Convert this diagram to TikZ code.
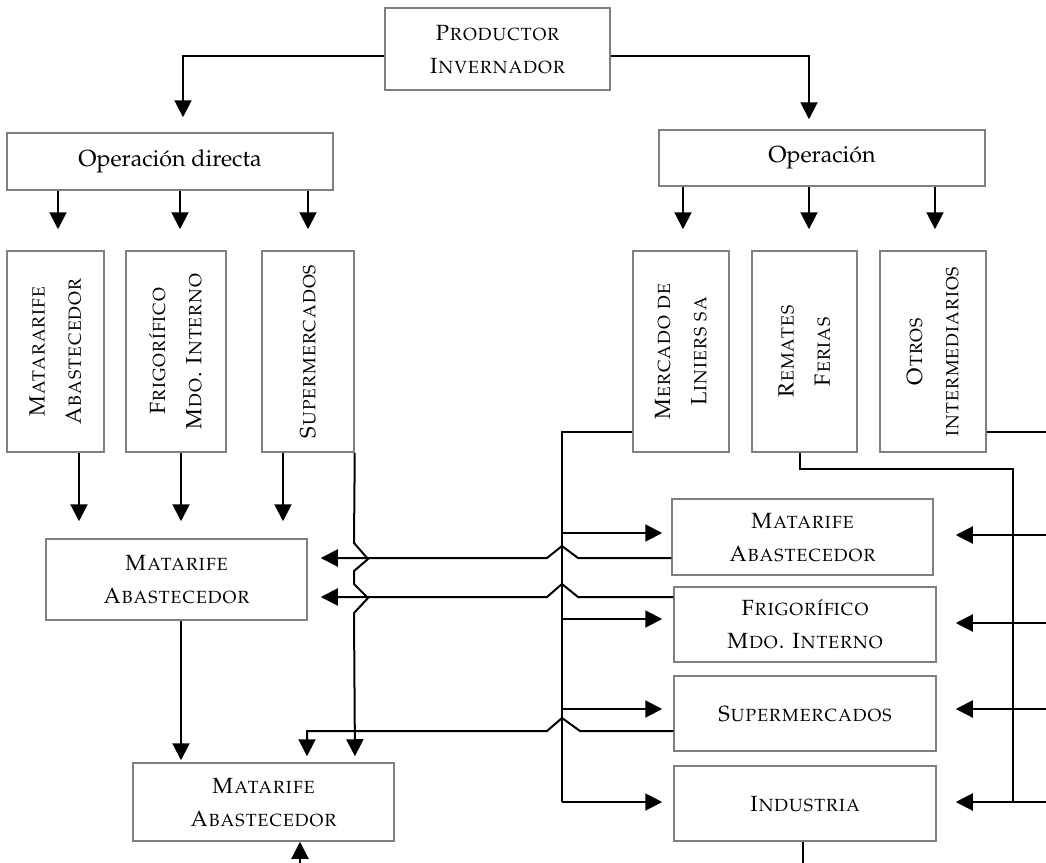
\documentclass[tikz,border=0pt]{standalone}
\usepackage[T1]{fontenc}
\usepackage{mathpazo}
\usepackage{graphicx}
\usetikzlibrary{arrows.meta}
\definecolor{grisborde}{RGB}{128,128,128}
\newcommand{\versal}[1]{\textsc{#1}}
\newcommand{\textovert}[1]{\rotatebox{90}{\renewcommand{\arraystretch}{1.1}\begin{tabular}{@{}c@{}}#1\end{tabular}}}

\begin{document}
\begin{tikzpicture}[x=0.5pt,y=-0.5pt,
  font=\fontsize{11}{16.5}\selectfont,
  flecha/.style={-{Triangle[length=8.5pt,width=8.5pt]},line width=1pt},
  linea/.style={line width=1.1pt}]
\tikzstyle{caja}=[draw=grisborde,line width=0.75pt,align=center,inner sep=0pt]
\useasboundingbox (0,0) rectangle (1046,863);
% cajas de arriba
\node[caja,minimum width=112.5pt,minimum height=41pt] (productor) at (497.5,49) {\versal{Productor}\\\versal{Invernador}};
\node[caja,minimum width=163pt,minimum height=28.5pt,font=\fontsize{11.6}{14}\selectfont] (opdirecta) at (170,161.5) {Operación directa};
\node[caja,minimum width=163pt,minimum height=28pt,font=\fontsize{11.6}{14}\selectfont] (operacion) at (822,158) {Operación};
% cajas verticales
\node[caja,minimum width=48.5pt,minimum height=100.5pt] (vmatarife) at (55.5,351.5) {\textovert{\versal{Matararife}\\\versal{Abastecedor}}};
\node[caja,minimum width=50pt,minimum height=100.5pt] (vfrigorifico) at (176,351.5) {\textovert{\versal{Frigorífico}\\\versal{Mdo. Interno}}};
\node[caja,minimum width=46pt,minimum height=100.5pt] (vsuper) at (308,351.5) {\textovert{\versal{Supermercados}}};
\node[caja,minimum width=48pt,minimum height=100.5pt] (vmercado) at (681,351.5) {\textovert{\versal{Mercado de}\\\versal{Liniers sa}}};
\node[caja,minimum width=52.5pt,minimum height=100.5pt] (vremates) at (804.5,351.5) {\textovert{\versal{Remates}\\\versal{Ferias}}};
\node[caja,minimum width=53pt,minimum height=100.5pt] (votros) at (933,351.5) {\textovert{\versal{Otros}\\\versal{intermediarios}}};
% cajas de abajo
\node[caja,minimum width=130.5pt,minimum height=40.5pt] (matA) at (176.5,579.5) {\versal{Matarife}\\\versal{Abastecedor}};
\node[caja,minimum width=130.5pt,minimum height=39pt] (matB) at (263.5,802) {\versal{Matarife}\\\versal{Abastecedor}};
\node[caja,minimum width=130.5pt,minimum height=38pt] (rmat) at (802.5,537) {\versal{Matarife}\\\versal{Abastecedor}};
\node[caja,minimum width=131pt,minimum height=37.5pt] (rfrig) at (805,624.5) {\versal{Frigorífico}\\\versal{Mdo. Interno}};
\node[caja,minimum width=131pt,minimum height=37.5pt] (rsuper) at (805,713.5) {\versal{Supermercados}};
\node[caja,minimum width=131pt,minimum height=37.5pt] (rind) at (805,803.5) {\versal{Industria}};
% bordes libres
\coordinate (bordeder) at (1046,432);
\coordinate (abajoind) at (803,863);
\coordinate (abajomat) at (300,863);

% productor
\draw[flecha,shorten >=7.5pt] (productor.west |- 0,56) -| (opdirecta.north -| 183,0);
\draw[flecha,shorten >=5pt] (productor.east |- 0,56) -| (operacion.north -| 809,0);
\foreach \x/\b in {58/vmatarife,180/vfrigorifico,308/vsuper}
  \draw[flecha,shorten >=10.5pt] (opdirecta.south -| \x,0) -- (\b.north -| \x,0);
\foreach \x/\b in {683/vmercado,809/vremates,935/votros}
  \draw[flecha,shorten >=10.5pt] (operacion.south -| \x,0) -- (\b.north -| \x,0);
% operacion directa
\foreach \x/\b in {79/vmatarife,181/vfrigorifico,283/vsuper}
  \draw[flecha,shorten >=8.5pt] (\b.south -| \x,0) -- (matA.north -| \x,0);
\draw[flecha,shorten >=1pt] (matA.south -| 181,0) -- (matB.north -| 181,0);
\draw[flecha,shorten >=3pt] (vsuper.south east) -- (354,543) -- (368,559) -- (354,571)
  -- (354,584) -- (368,598) -- (354,613) -- (matB.north -| 355,0);
\draw[flecha,shorten >=6.5pt] (rmat.west |- 0,558) -- (578,558) -- (562,546) -- (547,558) -- (matA.east |- 0,558);
\draw[flecha,shorten >=6.5pt] (rfrig.west |- 0,597) -- (578,597) -- (562,584) -- (547,597) -- (matA.east |- 0,597);
\draw[flecha,shorten >=3pt] (rsuper.west |- 0,731) -- (580,731) -- (562,718) -- (547,731) -| (matB.north -| 307,0);
% mercado de liniers
\draw[linea] (vmercado.west |- 0,432) -| (562,802);
\foreach \y/\b/\s in {533/rmat/4.5pt,619/rfrig/5.5pt,709/rsuper/5.5pt,802/rind/5.5pt}
  \draw[flecha,shorten >=\s] (562,\y) -- (\b.west |- 0,\y);
% otros y remates
\draw[linea] (votros.east |- bordeder) -- (bordeder);
\draw[linea] (vremates.south -| 800,0) -- (800,469) -| (1013,802);
\foreach \y/\b/\s in {535/rmat/11pt,623/rfrig/9.5pt,709/rsuper/9.5pt,802/rind/9.5pt}
  \draw[flecha,shorten >=\s] (bordeder |- 0,\y) -- (\b.east |- 0,\y);
\draw[linea] (rind.south -| abajoind) -- (abajoind);
\draw[flecha] (abajomat) -- (matB.south -| abajomat);
\end{tikzpicture}
\end{document}
